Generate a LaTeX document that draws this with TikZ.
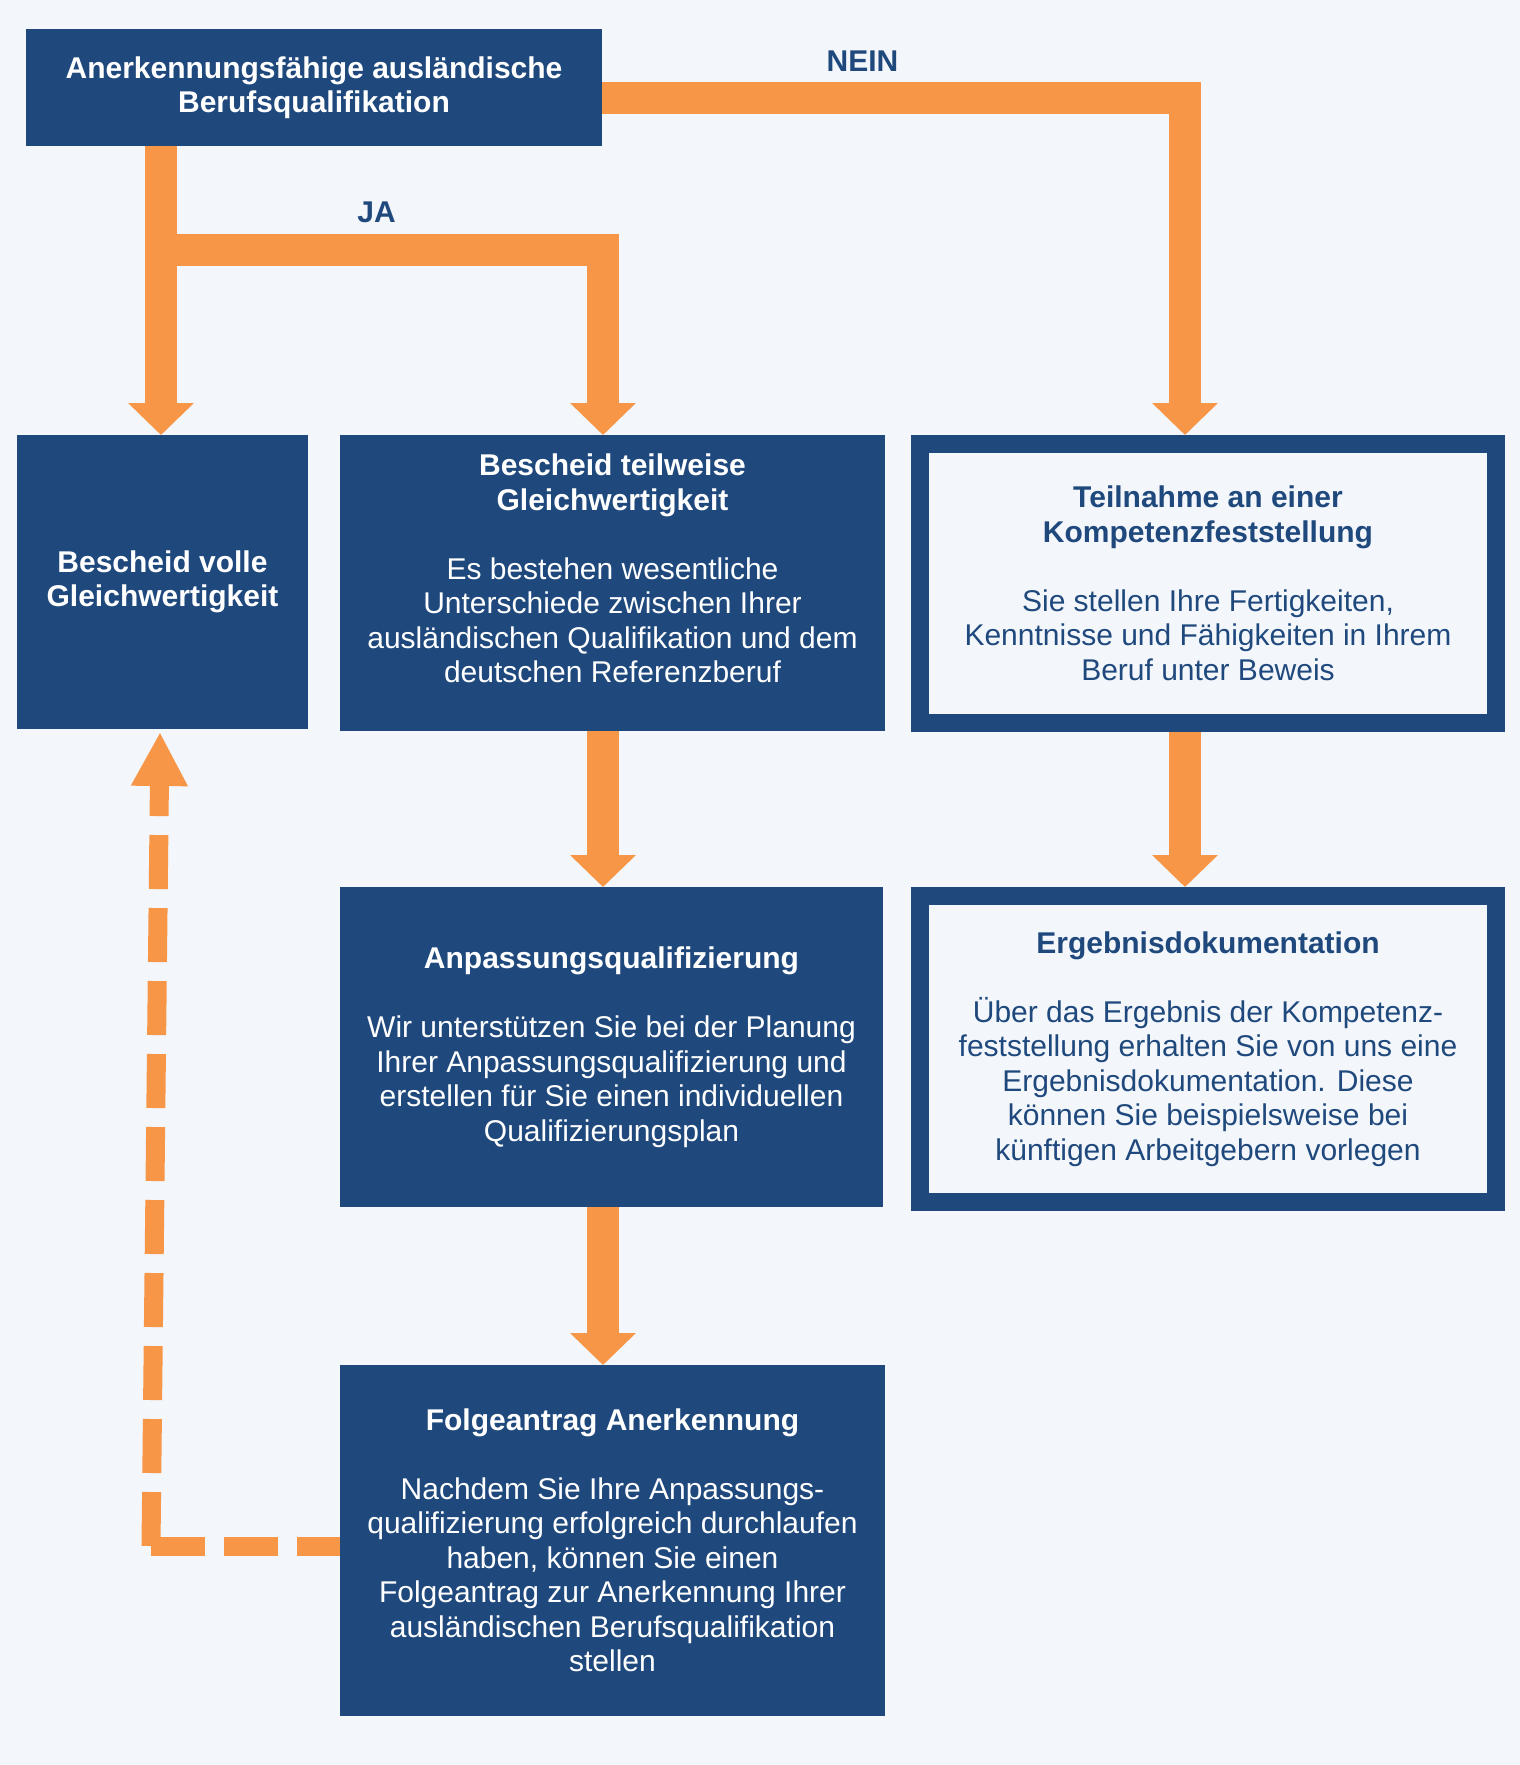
\documentclass[tikz,border=0pt]{standalone}
\usepackage{fontspec}
\setmainfont{Liberation Sans}
\usetikzlibrary{arrows.meta}
\definecolor{bgcol}{HTML}{F3F6FB}
\definecolor{boxcol}{HTML}{1F497D}
\definecolor{flowcol}{HTML}{F79646}
\tikzset{
	box/.style={rectangle,fill=boxcol,text=white,inner sep=0pt,outer sep=0pt,align=center,font=\fontsize{30}{34.5}\selectfont},
	framebox/.style={rectangle,draw=boxcol,line width=18pt,fill=bgcol,text=boxcol,inner sep=0pt,align=center,font=\fontsize{30}{34.5}\selectfont},
	flow/.style={draw=flowcol,line width=32pt,line join=miter,-{Triangle[length=32pt,width=64pt]}},
	back/.style={draw=flowcol,line width=19pt,dash pattern=on 54pt off 19pt},
	tag/.style={text=boxcol,anchor=base,font=\bfseries\fontsize{30}{34.5}\selectfont}
}
\begin{document}
\begin{tikzpicture}[x=1pt,y=-1pt]
	\fill[bgcol] (0,0) rectangle (1520,1765);
	\node[box,minimum width=576pt,minimum height=117pt] (quali) at (314,87.5) {\textbf{Anerkennungsfähige ausländische}\\\textbf{Berufsqualifikation}};
	\node[box,minimum width=291pt,minimum height=294pt] (volle) at (162.5,582) {\textbf{Bescheid volle}\\\textbf{Gleichwertigkeit}};
	\node[box,minimum width=545pt,minimum height=296pt] (teil) at (612.5,583) {\textbf{Bescheid teilweise}\\\textbf{Gleichwertigkeit}\\[34.5pt]Es bestehen wesentliche\\Unterschiede zwischen Ihrer\\ausländischen Qualifikation und dem\\deutschen Referenzberuf\\[-5pt]\mbox{}};
	\node[framebox,minimum width=576pt,minimum height=279pt] (komp) at (1208,583.5) {\textbf{Teilnahme an einer}\\\textbf{Kompetenzfeststellung}\\[34.5pt]Sie stellen Ihre Fertigkeiten,\\Kenntnisse und Fähigkeiten in Ihrem\\Beruf unter Beweis};
	\node[box,minimum width=543pt,minimum height=320pt] (anp) at (611.5,1047) {\textbf{Anpassungsqualifizierung}\\[34.5pt]Wir unterstützen Sie bei der Planung\\Ihrer Anpassungsqualifizierung und\\erstellen für Sie einen individuellen\\Qualifizierungsplan};
	\node[framebox,minimum width=576pt,minimum height=306pt] (erg) at (1208,1049) {\textbf{Ergebnisdokumentation}\\[34.5pt]Über das Ergebnis der Kompetenz-\\feststellung erhalten Sie von uns eine\\Ergebnisdokumentation. Diese\\können Sie beispielsweise bei\\künftigen Arbeitgebern vorlegen};
	\node[box,minimum width=545pt,minimum height=351pt] (folge) at (612.5,1540.5) {\textbf{Folgeantrag Anerkennung}\\[34.5pt]Nachdem Sie Ihre Anpassungs-\\qualifizierung erfolgreich durchlaufen\\haben, können Sie einen\\Folgeantrag zur Anerkennung Ihrer\\ausländischen Berufsqualifikation\\stellen};
	\coordinate (jal) at (161,249.5);
	\coordinate (jar) at (603,249.5);
	\coordinate (nein) at (1185,98);
	\coordinate (knick) at (151,1546);
	\draw[flow] (jal |- quali.south) -- (jal |- volle.north);
	\draw[flow] (jal) -| (jar |- teil.north);
	\draw[flow] (quali.east |- nein) -| (nein |- komp.north);
	\draw[flow] (jar |- teil.south) -- (jar |- anp.north);
	\draw[flow] (jar |- anp.south) -- (jar |- folge.north);
	\draw[flow] (nein |- komp.south) -- (nein |- erg.north);
	\draw[back,dash phase=11pt] (folge.west |- knick) -- (knick);
	\draw[back,-{Triangle[length=54pt,width=53pt]}] (knick) -- ([xshift=-2.5pt,yshift=-3pt]volle.south);
	\node[tag] (lblnein) at (862.5,71) {NEIN};
	\node[tag] (lblja) at (376.5,222) {JA};
\end{tikzpicture}
\end{document}
